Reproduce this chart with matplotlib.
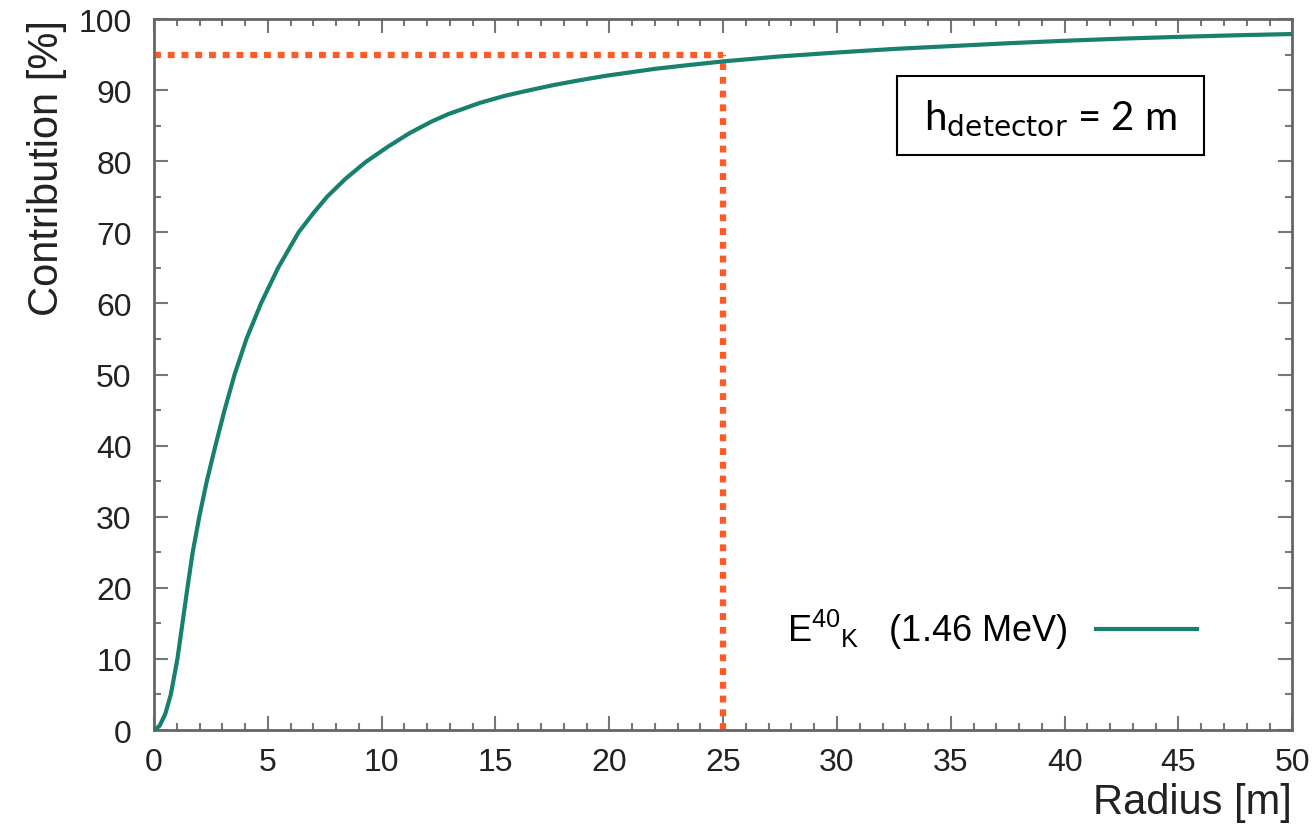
import matplotlib
matplotlib.use("Agg")
from matplotlib import pyplot as plt
from matplotlib.patches import Rectangle

plt.rcParams['font.family'] = ['Liberation Sans', 'DejaVu Sans']
plt.rcParams['mathtext.default'] = 'regular'

# curve: radius [m] vs cumulative contribution [%]
radius = [0, 0.25, 0.5, 0.74, 1.03, 1.25, 1.47, 1.70, 1.99, 2.32, 2.70, 3.10,
          3.54, 4.06, 4.7, 5.45, 6.35, 7.0, 7.6, 8.4, 9.3, 10.3, 11.25, 12.2,
          12.9, 14.3, 15.4, 16.5, 17.6, 18.7, 19.8, 20.9, 22.0, 23.1, 25,
          27.5, 30, 32.5, 35, 37.5, 40, 42.5, 45, 47.5, 50]
contribution = [0, 0.6, 2.3, 5, 10, 15, 20, 25, 30, 35, 40, 45,
                50, 55, 60, 65, 70, 72.7, 75, 77.5, 79.9, 82.1, 84.0, 85.6,
                86.6, 88.2, 89.2, 90.0, 90.75, 91.4, 92.0, 92.5, 93.0, 93.4, 94.05,
                94.75, 95.3, 95.8, 96.2, 96.6, 96.95, 97.25, 97.5, 97.72, 97.9]

mark_r = 25
mark_c = 95
legend_label = r'E$^{40}$${}_{K}$   (1.46 MeV)'
box_text = r'h$_{\mathrm{detector}}$ = 2 m'

fig = plt.figure(figsize=(13.16, 8.37), dpi=100)
ax = fig.add_axes([0.117, 0.1266, 0.865, 0.8494])

ax.plot([0, mark_r], [mark_c, mark_c], color='#ff5a26', lw=4.5,
        linestyle=(0, (1.1, 1.1)), dash_capstyle='butt', zorder=2)
ax.plot([mark_r, mark_r], [0, mark_c], color='#ff5a26', lw=4.5,
        linestyle=(0, (1.1, 1.1)), dash_capstyle='butt', zorder=2)
ax.plot(radius, contribution, color='#18806e', lw=3.0, label=legend_label,
        solid_joinstyle='round', zorder=3)

ax.set_xlim(0, 50)
ax.set_ylim(0, 100)
ax.set_xticks(range(0, 51, 5))
ax.set_yticks(range(0, 101, 10))
ax.set_xticks(range(0, 51, 1), minor=True)
ax.set_yticks(range(0, 101, 5), minor=True)
ax.tick_params(which='both', direction='in', top=True, right=True,
               color='#777777', width=1.5, labelsize=23, labelcolor='#222222')
ax.tick_params(which='major', length=10)
ax.tick_params(which='minor', length=5)
ax.tick_params(axis='y', which='major', pad=16)
ax.tick_params(axis='x', which='major', pad=12)
for s in ax.spines.values():
    s.set_color('#666666')
    s.set_linewidth(2)

ax.set_xlabel('Radius [m]', fontsize=30, loc='right', color='#222222', labelpad=4)
ax.set_ylabel('Contribution [%]', fontsize=30, loc='top', color='#222222', labelpad=8)

ax.legend(loc='lower right', bbox_to_anchor=(0.945, 0.065), frameon=False,
          markerfirst=False, fontsize=26, handlelength=2.8, handletextpad=0.8)

ax.add_patch(Rectangle((0.653, 0.809), 0.269, 0.111, transform=ax.transAxes,
                       fill=True, facecolor='white', edgecolor='black', lw=1.5, zorder=4))
ax.text(0.7875, 0.862, box_text, transform=ax.transAxes, ha='center', va='center',
        fontsize=29, family=['Lato', 'DejaVu Sans'], zorder=5)

fig.savefig('out.png', dpi=100)
